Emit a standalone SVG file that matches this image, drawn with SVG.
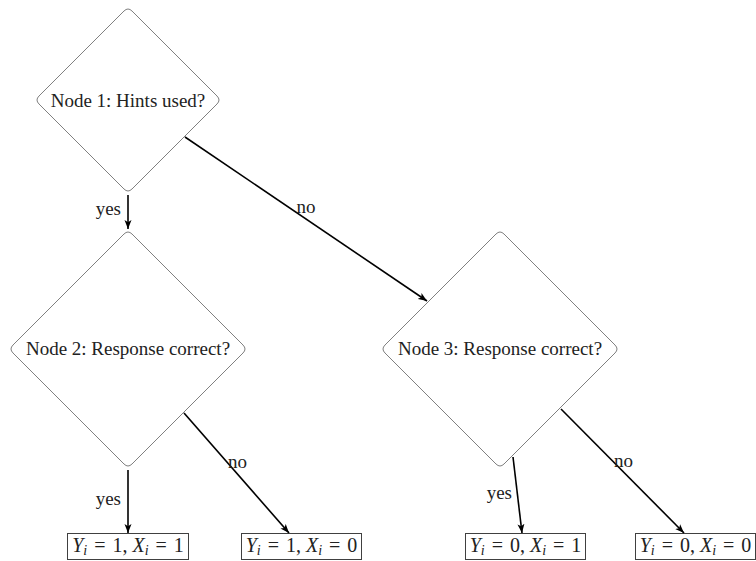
<svg xmlns="http://www.w3.org/2000/svg" width="756" height="561" viewBox="0 0 756 561">
<style>
  .dia { fill: #ffffff; stroke: #808080; stroke-width: 1; }
  .box { fill: #ffffff; stroke: #404040; stroke-width: 1; }
  .edge { fill: none; stroke: #000000; stroke-width: 1.6; marker-end: url(#arr); }
  text { font-family: 'Liberation Serif', 'Times New Roman', 'DejaVu Serif', serif; font-size: 19px; fill: #222222; }
  .math { font-size: 20px; }
  .it { font-style: italic; }
  .sub { font-style: italic; font-size: 14px; }
</style>
<defs>
  <marker id="arr" markerUnits="userSpaceOnUse" markerWidth="10" markerHeight="8" refX="9" refY="4" orient="auto">
    <path d="M0,0.5 L9,4 L0,7.5 L2.2,4 Z" fill="#000000"/>
  </marker>
</defs>
<g id="node1">
  <path class="dia" d="M124,11 Q128,7 132,11 L217,96 Q221,100 217,104 L132,189 Q128,193 124,189 L39,104 Q35,100 39,96 Z"/>
  <text x="128" y="107" text-anchor="middle">Node 1: Hints used?</text>
</g>
<g id="node2">
  <path class="dia" d="M124,234 Q128,230 132,234 L243,345 Q247,349 243,353 L132,464 Q128,468 124,464 L13,353 Q9,349 13,345 Z"/>
  <text x="128" y="355" text-anchor="middle">Node 2: Response correct?</text>
</g>
<g id="node3">
  <path class="dia" d="M496,234 Q500,230 504,234 L615,345 Q619,349 615,353 L504,464 Q500,468 496,464 L385,353 Q381,349 385,345 Z"/>
  <text x="500" y="355" text-anchor="middle">Node 3: Response correct?</text>
</g>
<g id="leaf1">
  <rect class="box" x="67.5" y="533.5" width="121" height="26"/>
  <text class="math" x="128" y="552" text-anchor="middle"><tspan class="it">Y</tspan><tspan class="sub" dy="3">i</tspan><tspan dx="7" dy="-3">=</tspan><tspan dx="7">1,</tspan><tspan class="it" dx="5">X</tspan><tspan class="sub" dy="3">i</tspan><tspan dx="7" dy="-3">=</tspan><tspan dx="7">1</tspan></text>
</g>
<g id="leaf2">
  <rect class="box" x="241.5" y="533.5" width="120" height="26"/>
  <text class="math" x="301.5" y="552" text-anchor="middle"><tspan class="it">Y</tspan><tspan class="sub" dy="3">i</tspan><tspan dx="7" dy="-3">=</tspan><tspan dx="7">1,</tspan><tspan class="it" dx="5">X</tspan><tspan class="sub" dy="3">i</tspan><tspan dx="7" dy="-3">=</tspan><tspan dx="7">0</tspan></text>
</g>
<g id="leaf3">
  <rect class="box" x="465.5" y="533.5" width="120" height="26"/>
  <text class="math" x="525.5" y="552" text-anchor="middle"><tspan class="it">Y</tspan><tspan class="sub" dy="3">i</tspan><tspan dx="7" dy="-3">=</tspan><tspan dx="7">0,</tspan><tspan class="it" dx="5">X</tspan><tspan class="sub" dy="3">i</tspan><tspan dx="7" dy="-3">=</tspan><tspan dx="7">1</tspan></text>
</g>
<g id="leaf4">
  <rect class="box" x="635.5" y="533.5" width="120" height="26"/>
  <text class="math" x="695.5" y="552" text-anchor="middle"><tspan class="it">Y</tspan><tspan class="sub" dy="3">i</tspan><tspan dx="7" dy="-3">=</tspan><tspan dx="7">0,</tspan><tspan class="it" dx="5">X</tspan><tspan class="sub" dy="3">i</tspan><tspan dx="7" dy="-3">=</tspan><tspan dx="7">0</tspan></text>
</g>
<g id="connectors">
  <path class="edge" d="M128,195 L128,229"/>
  <text x="121" y="215" text-anchor="end">yes</text>
  <path class="edge" d="M185,137 L427,301"/>
  <text x="306" y="213" text-anchor="middle">no</text>
  <path class="edge" d="M128,470 L128,533"/>
  <text x="121" y="505" text-anchor="end">yes</text>
  <path class="edge" d="M184,413 L289,533"/>
  <text x="228" y="468">no</text>
  <path class="edge" d="M513,457 L522,533"/>
  <text x="512" y="499" text-anchor="end">yes</text>
  <path class="edge" d="M561,409 L684,533"/>
  <text x="614" y="467">no</text>
</g>
</svg>
